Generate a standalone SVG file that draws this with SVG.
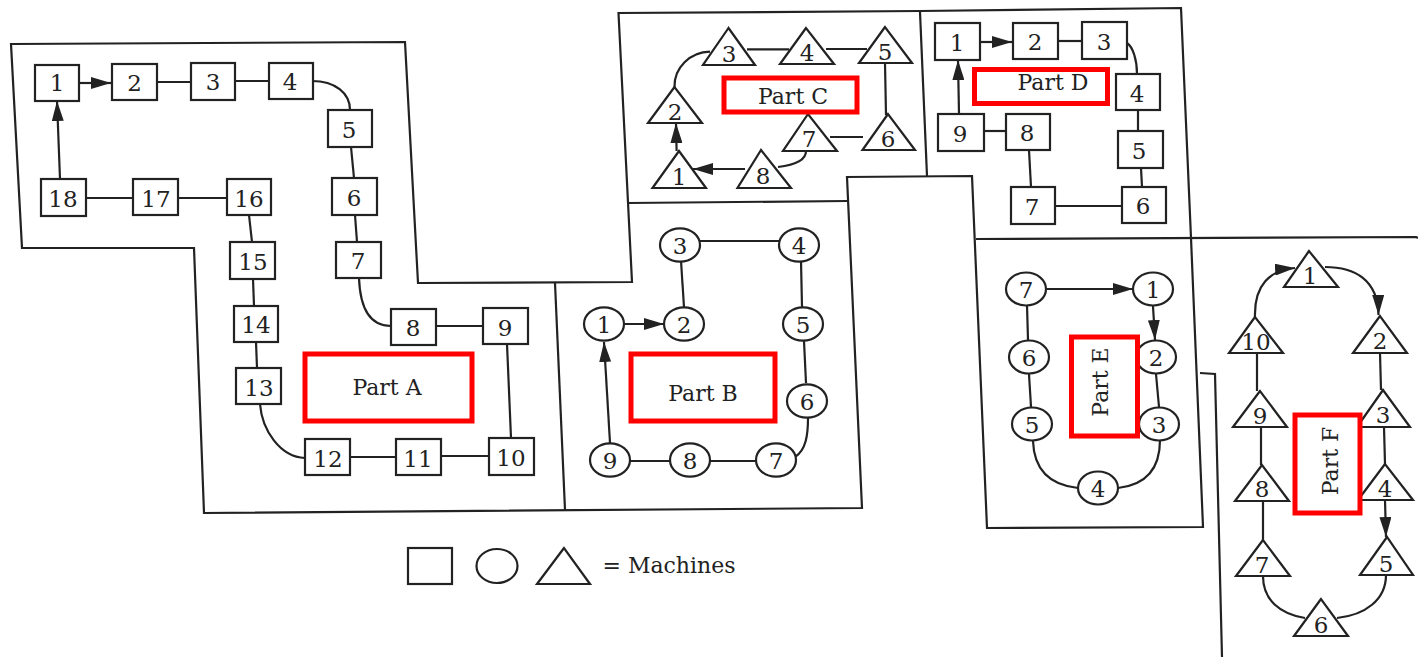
<svg xmlns="http://www.w3.org/2000/svg" width="1418" height="657" viewBox="0 0 1418 657">
<style>
.s{fill:#fff;stroke:#222;stroke-width:2.2}
.c path,.w path{fill:none;stroke:#222;stroke-width:2.2}
.a{marker-end:url(#ah)}
.n text,.t{font-family:"DejaVu Serif","Liberation Serif",serif;font-size:23px;fill:#222;text-anchor:middle}
.t{font-size:22px}
.r{fill:#fff;stroke:#f00;stroke-width:5}
</style>
<defs><marker id="ah" markerUnits="userSpaceOnUse" markerWidth="20" markerHeight="12" refX="20" refY="6" orient="auto"><path d="M0 0L20 6L0 12Z" fill="#222"/></marker></defs>
<rect width="1418" height="657" fill="#fff"/>
<g id="walls" class="w">
<path d="M11 44L405 42L418 283L632 282L618.5 13L920 11L1181 8L1191 238L1203 527L987 528L972 176L847 177L862 508L204 513L194 248L22 248Z"/>
<path d="M555 283L565 510"/><path d="M628 203L847 201"/><path d="M920 12L927 176"/><path d="M976 239L1416 237L1418 238"/>
<path d="M1200 373L1215 374L1222 657"/>
</g>
<g id="connectors" class="c">
<path class="a" d="M79 83H111"/><path d="M157 82H191"/><path d="M235 81H269"/><path d="M312 81C335 81 350 93 350 110"/><path d="M351 147L354 178"/><path d="M355 215L357 242"/><path d="M359 278C360 305 368 326 391 326"/><path d="M436 326H483"/><path d="M507 344L511 438"/><path d="M489 456H441"/><path d="M396 457H350"/><path d="M305 458C280 457 262 430 260 404"/><path d="M257 368L256 342"/><path d="M254 306L253 279"/><path d="M252 242L249 215"/><path d="M227 198H178"/><path d="M133 198H86"/><path class="a" d="M60 179L57 101"/>
<path class="a" d="M676.6 151L676 123"/><path d="M674.5 87C674 68 690 52 710 51.7"/><path d="M747 49.3H789"/><path d="M826 49H867"/><path d="M885 63L886 115"/><path d="M863 137H830"/><path d="M806 151C806 160 795 165 778 167"/><path class="a" d="M745 169H693"/>
<path class="a" d="M980 42H1012"/><path d="M1058 41H1082"/><path d="M1127 43C1133 47 1137 60 1137 74"/><path d="M1138 110V131"/><path d="M1141 168L1142 187"/><path d="M1122 206H1055"/><path d="M1031 187L1029 150"/><path d="M1006 131H984"/><path class="a" d="M959 114L958 60"/>
<path class="a" d="M624 324H664"/><path d="M684 307L681 261"/><path d="M700 241H779"/><path d="M801 261L802 307"/><path d="M804 341L806 383"/><path d="M808 418C808 435 806 450 795 457"/><path d="M756 461H710"/><path d="M670 461H630"/><path class="a" d="M610 443L604 342"/>
<path class="a" d="M1046 289H1133"/><path class="a" d="M1153 306L1155 340"/><path d="M1156 374L1159 407"/><path d="M1160 440C1160 470 1145 485 1118 488"/><path d="M1078 488C1050 485 1034 470 1033 441"/><path d="M1031 407L1029 374"/><path d="M1028 340L1027 305"/>
<path class="a" d="M1255 317C1254 285 1270 270 1295 268"/><path class="a" d="M1325 267C1355 267 1378 280 1378.5 315"/><path d="M1380 353L1381 390"/><path d="M1384 427L1385 464"/><path class="a" d="M1385 500L1386 537"/><path d="M1386 575C1386 600 1365 615 1337 618"/><path d="M1305 618C1280 614 1263 600 1263 576"/><path d="M1263 540V501"/><path d="M1261 465V427"/><path d="M1257 391V353"/>
</g>
<g id="a1" class="n"><rect class="s" x="35" y="65" width="44" height="36"/><text x="57" y="91">1</text></g>
<g id="a2" class="n"><rect class="s" x="112" y="64" width="45" height="36"/><text x="134.500" y="91">2</text></g>
<g id="a3" class="n"><rect class="s" x="191" y="63" width="44" height="37"/><text x="213" y="90">3</text></g>
<g id="a4" class="n"><rect class="s" x="269" y="63" width="44" height="36"/><text x="290" y="90">4</text></g>
<g id="a5" class="n"><rect class="s" x="328" y="110" width="44" height="37"/><text x="349" y="138">5</text></g>
<g id="a6" class="n"><rect class="s" x="332" y="178" width="45" height="37"/><text x="354" y="206">6</text></g>
<g id="a7" class="n"><rect class="s" x="336" y="242" width="45" height="36"/><text x="358" y="269">7</text></g>
<g id="a8" class="n"><rect class="s" x="391" y="309" width="45" height="36"/><text x="413" y="336">8</text></g>
<g id="a9" class="n"><rect class="s" x="483" y="308" width="45" height="36"/><text x="505" y="336">9</text></g>
<g id="a10" class="n"><rect class="s" x="489" y="438" width="45" height="37"/><text x="511" y="466">10</text></g>
<g id="a11" class="n"><rect class="s" x="396" y="439" width="45" height="36"/><text x="418" y="467">11</text></g>
<g id="a12" class="n"><rect class="s" x="305" y="439" width="45" height="36"/><text x="328" y="467">12</text></g>
<g id="a13" class="n"><rect class="s" x="236" y="368" width="45" height="36"/><text x="259" y="396">13</text></g>
<g id="a14" class="n"><rect class="s" x="234" y="306" width="44" height="36"/><text x="256" y="333">14</text></g>
<g id="a15" class="n"><rect class="s" x="230" y="242" width="45" height="37"/><text x="253" y="270">15</text></g>
<g id="a16" class="n"><rect class="s" x="227" y="179" width="44" height="36"/><text x="249" y="207">16</text></g>
<g id="a17" class="n"><rect class="s" x="133" y="179" width="45" height="36"/><text x="156" y="207">17</text></g>
<g id="a18" class="n"><rect class="s" x="41" y="179" width="45" height="37"/><text x="63" y="207">18</text></g>
<g id="partA"><rect class="r" x="305" y="354" width="167" height="67"/><text class="t" x="387" y="395">Part A</text></g>
<g id="b1" class="n"><ellipse class="s" cx="604" cy="324" rx="20" ry="16.700"/><text x="604" y="333">1</text></g>
<g id="b2" class="n"><ellipse class="s" cx="684" cy="324" rx="20" ry="16.700"/><text x="684" y="333">2</text></g>
<g id="b3" class="n"><ellipse class="s" cx="680" cy="245" rx="20" ry="16.700"/><text x="680" y="254">3</text></g>
<g id="b4" class="n"><ellipse class="s" cx="799" cy="245" rx="20" ry="16.700"/><text x="799" y="254">4</text></g>
<g id="b5" class="n"><ellipse class="s" cx="803" cy="324" rx="20" ry="16.700"/><text x="803" y="333">5</text></g>
<g id="b6" class="n"><ellipse class="s" cx="807" cy="401" rx="20" ry="16.700"/><text x="807" y="410">6</text></g>
<g id="b7" class="n"><ellipse class="s" cx="776" cy="460" rx="20" ry="16.700"/><text x="776" y="469">7</text></g>
<g id="b8" class="n"><ellipse class="s" cx="690" cy="460" rx="20" ry="16.700"/><text x="690" y="469">8</text></g>
<g id="b9" class="n"><ellipse class="s" cx="610" cy="460" rx="20" ry="16.700"/><text x="610" y="469">9</text></g>
<g id="partB"><rect class="r" x="631" y="354" width="144" height="67"/><text class="t" x="703" y="401">Part B</text></g>
<g id="c1" class="n"><polygon class="s" points="679,151 652.500,188 706,188"/><text x="679" y="185">1</text></g>
<g id="c2" class="n"><polygon class="s" points="674.500,87 648,123 702,123"/><text x="675" y="120">2</text></g>
<g id="c3" class="n"><polygon class="s" points="728.500,28 703,65 755,65"/><text x="729" y="62">3</text></g>
<g id="c4" class="n"><polygon class="s" points="806,28 780,64 834,64"/><text x="807" y="61">4</text></g>
<g id="c5" class="n"><polygon class="s" points="885,27 859,63 912,63"/><text x="885" y="60">5</text></g>
<g id="c6" class="n"><polygon class="s" points="888,114 862.500,150 915,150"/><text x="888" y="147">6</text></g>
<g id="c7" class="n"><polygon class="s" points="808,114 783,151 837,151"/><text x="809" y="147">7</text></g>
<g id="c8" class="n"><polygon class="s" points="761,150 737.500,188 791,188"/><text x="763" y="184">8</text></g>
<g id="partC"><rect class="r" x="724" y="78" width="133" height="34"/><text class="t" x="793" y="104">Part C</text></g>
<g id="d1" class="n"><rect class="s" x="935" y="23" width="45" height="37"/><text x="957" y="51">1</text></g>
<g id="d2" class="n"><rect class="s" x="1013" y="23" width="45" height="36"/><text x="1035" y="50">2</text></g>
<g id="d3" class="n"><rect class="s" x="1082" y="22" width="45" height="37"/><text x="1104" y="50">3</text></g>
<g id="d4" class="n"><rect class="s" x="1116" y="74" width="44" height="36"/><text x="1137" y="102">4</text></g>
<g id="d5" class="n"><rect class="s" x="1118" y="131" width="45" height="37"/><text x="1139" y="159">5</text></g>
<g id="d6" class="n"><rect class="s" x="1122" y="187" width="44" height="36"/><text x="1143" y="214">6</text></g>
<g id="d7" class="n"><rect class="s" x="1011" y="187" width="44" height="37"/><text x="1032" y="215">7</text></g>
<g id="d8" class="n"><rect class="s" x="1006" y="114" width="44" height="36"/><text x="1027" y="141">8</text></g>
<g id="d9" class="n"><rect class="s" x="938" y="114" width="46" height="37"/><text x="960" y="142">9</text></g>
<g id="partD"><rect class="r" x="974.500" y="69.500" width="133" height="34"/><text class="t" x="1053" y="90">Part D</text></g>
<g id="e1" class="n"><ellipse class="s" cx="1153" cy="289" rx="20" ry="16.500"/><text x="1153" y="298">1</text></g>
<g id="e2" class="n"><ellipse class="s" cx="1156" cy="357" rx="20" ry="16.500"/><text x="1156" y="366">2</text></g>
<g id="e3" class="n"><ellipse class="s" cx="1159" cy="424" rx="20" ry="16.500"/><text x="1159" y="433">3</text></g>
<g id="e4" class="n"><ellipse class="s" cx="1098" cy="488" rx="20" ry="16.500"/><text x="1098" y="497">4</text></g>
<g id="e5" class="n"><ellipse class="s" cx="1032" cy="424" rx="20" ry="16.500"/><text x="1032" y="433">5</text></g>
<g id="e6" class="n"><ellipse class="s" cx="1029" cy="357" rx="20" ry="16.500"/><text x="1029" y="366">6</text></g>
<g id="e7" class="n"><ellipse class="s" cx="1026" cy="289" rx="20" ry="16.500"/><text x="1026" y="298">7</text></g>
<g id="partE"><rect class="r" x="1071.500" y="337" width="66" height="99"/><text class="t" transform="translate(1108 382) rotate(-90)">Part E</text></g>
<g id="f1" class="n"><polygon class="s" points="1309,251 1284,287 1338,287"/><text x="1310" y="284">1</text></g>
<g id="f2" class="n"><polygon class="s" points="1380,316 1353,353 1407,353"/><text x="1380" y="349">2</text></g>
<g id="f3" class="n"><polygon class="s" points="1383,390 1357,427 1410,427"/><text x="1383" y="423">3</text></g>
<g id="f4" class="n"><polygon class="s" points="1385,464 1358,500 1413,500"/><text x="1385" y="497">4</text></g>
<g id="f5" class="n"><polygon class="s" points="1387,537 1360,575 1413,575"/><text x="1386" y="572">5</text></g>
<g id="f6" class="n"><polygon class="s" points="1321,599 1294,636 1348,636"/><text x="1321" y="633">6</text></g>
<g id="f7" class="n"><polygon class="s" points="1263,540 1236,576 1290,576"/><text x="1262" y="573">7</text></g>
<g id="f8" class="n"><polygon class="s" points="1262,465 1235,501 1289,501"/><text x="1262" y="497">8</text></g>
<g id="f9" class="n"><polygon class="s" points="1260,391 1233,427 1287,427"/><text x="1260" y="424">9</text></g>
<g id="f10" class="n"><polygon class="s" points="1255,317 1229,353 1283,353"/><text x="1256" y="350">10</text></g>
<g id="partF"><rect class="r" x="1295" y="415" width="65" height="98"/><text class="t" transform="translate(1338 461) rotate(-90)">Part F</text></g>
<g id="legend"><rect class="s" x="408" y="548" width="44" height="36"/><ellipse class="s" cx="497" cy="566" rx="20.500" ry="17"/><polygon class="s" points="564,548 537,584 590,584"/><text class="t" x="669" y="573">= Machines</text></g>
</svg>
